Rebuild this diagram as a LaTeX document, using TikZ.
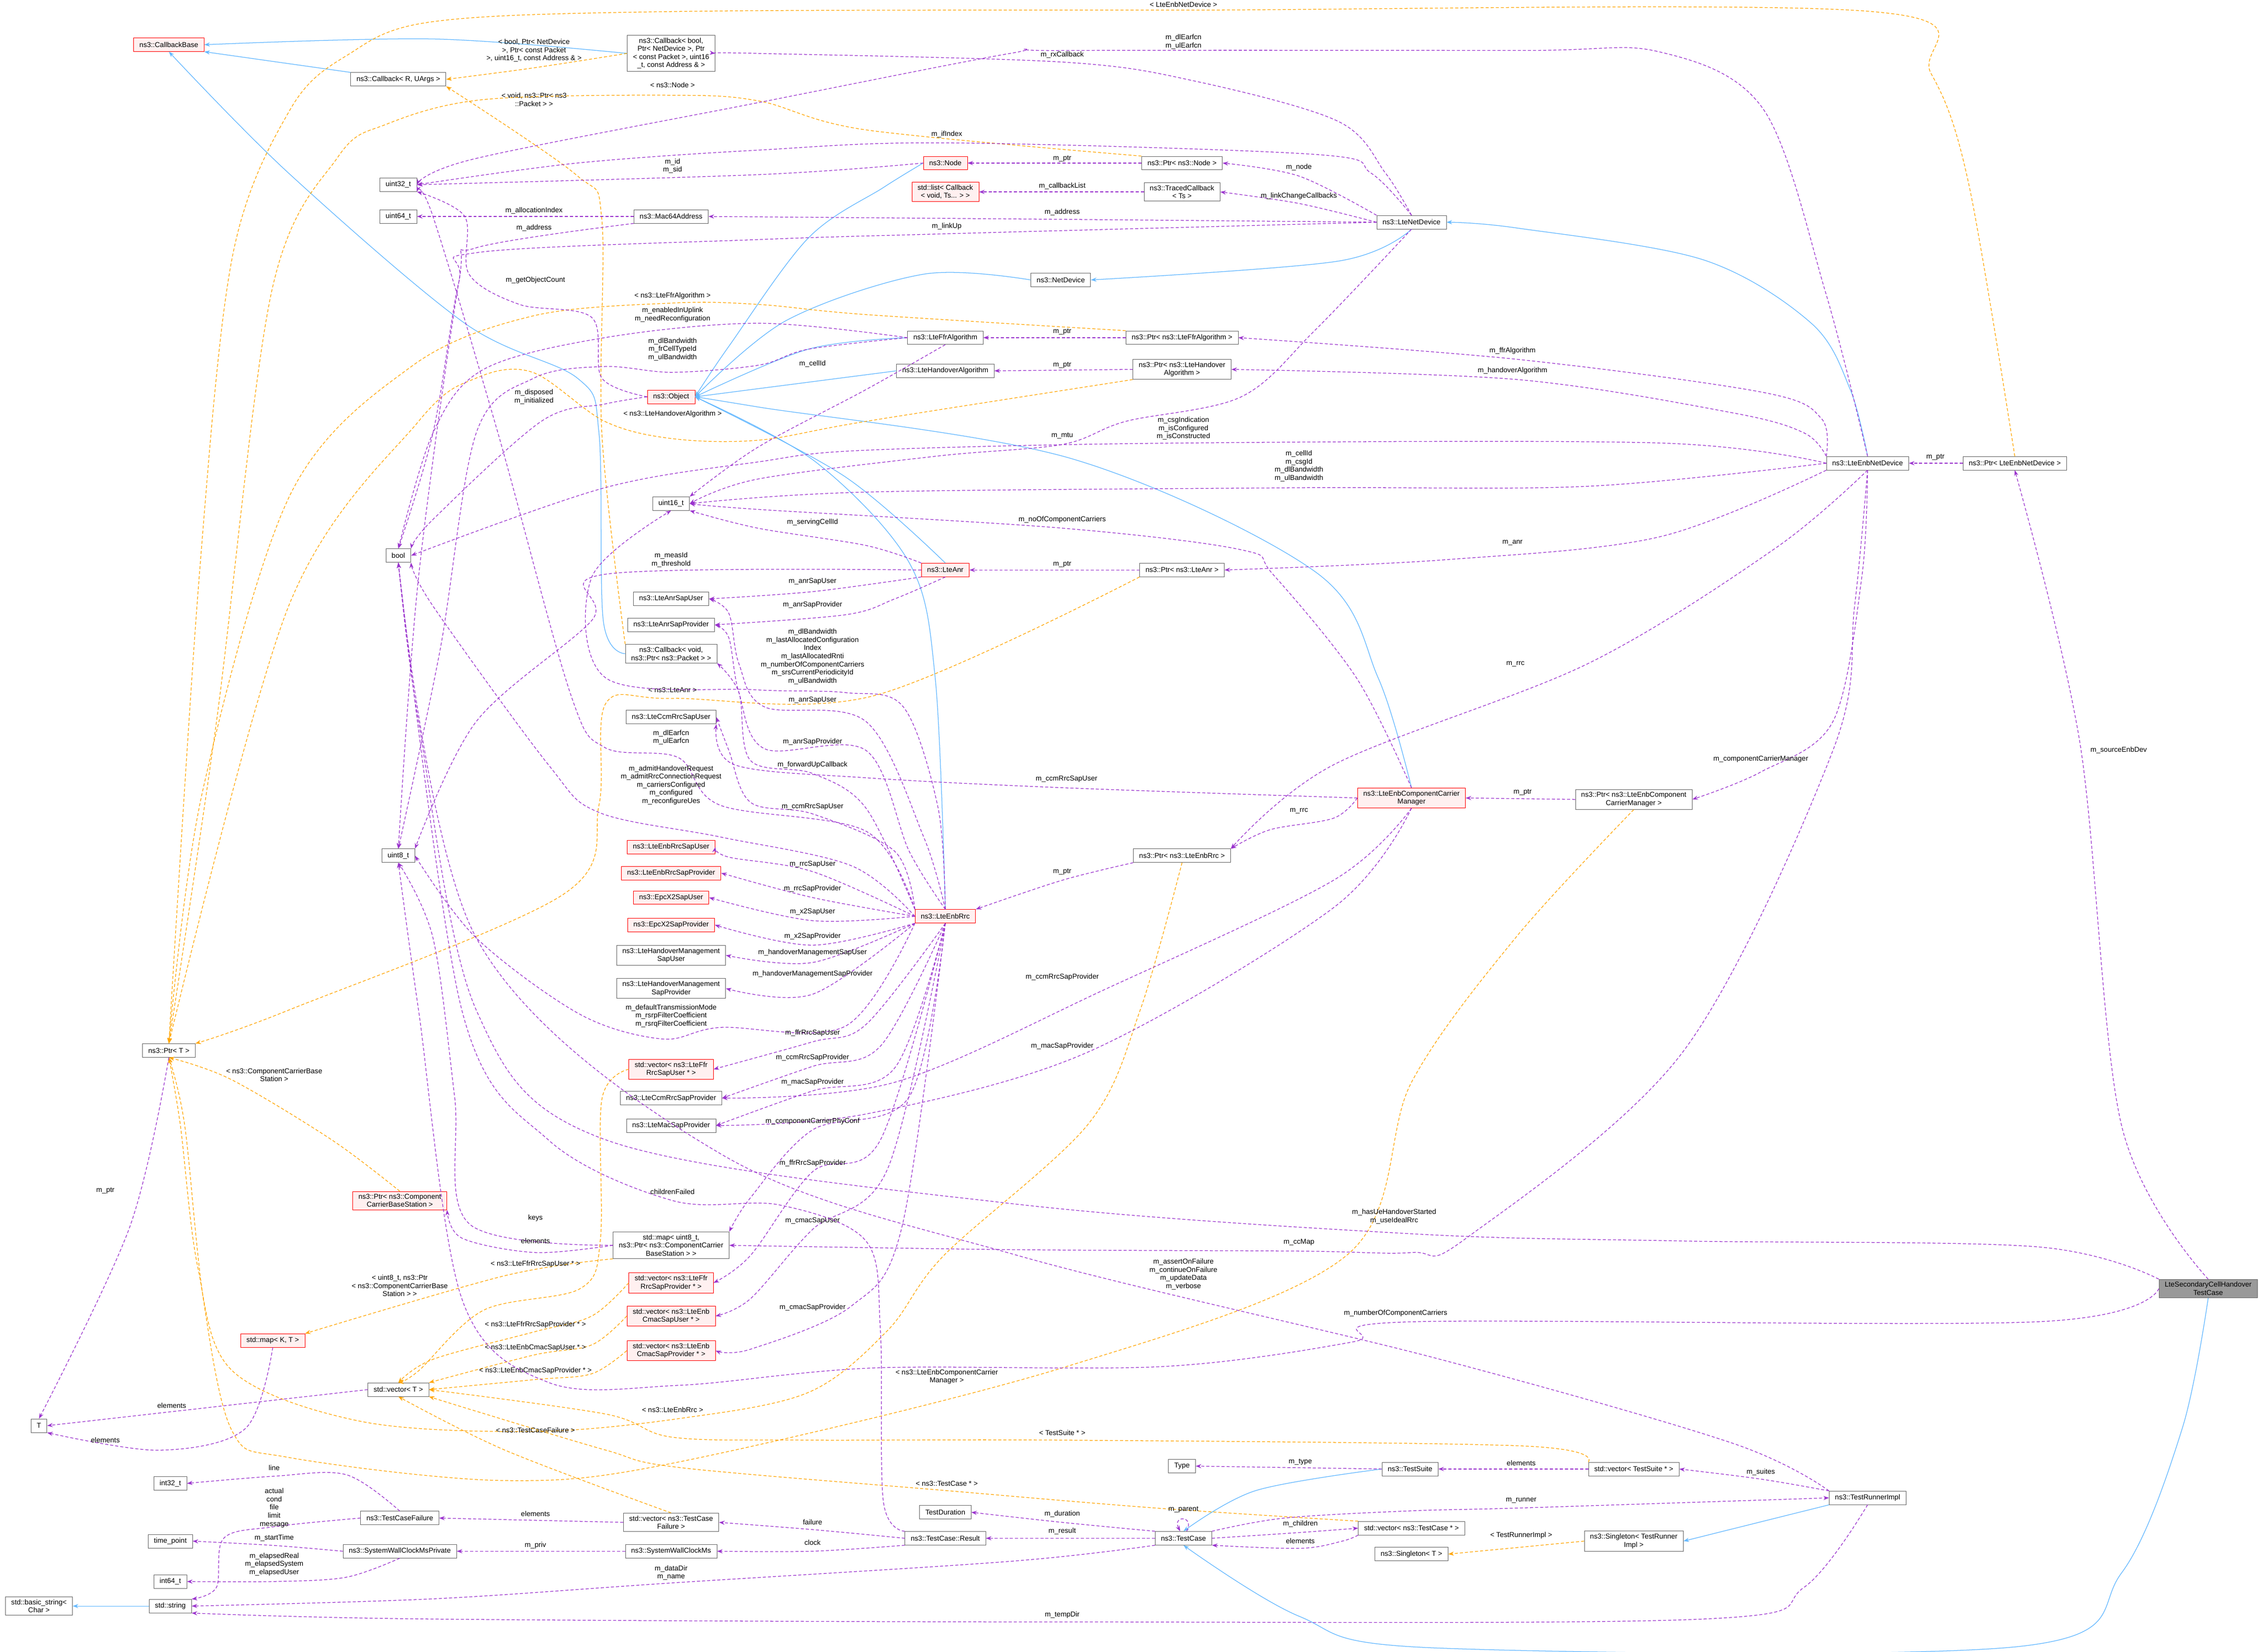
\documentclass[tikz,border=0pt]{standalone}
\usepackage{fontspec}
\setmainfont{Liberation Sans}
\usetikzlibrary{arrows.meta}
\definecolor{pur}{HTML}{9A32CD}
\definecolor{org}{HTML}{FFA500}
\definecolor{blu}{HTML}{63B8FF}
\definecolor{rfill}{HTML}{FFF0F0}
\definecolor{gbord}{HTML}{666666}
\newcommand\pth[2]{\draw[#1] plot[smooth,tension=0.55] coordinates {#2};}
\newcommand\lab[2]{\node[lab] at #1 {#2};}
\begin{document}
\catcode`\_=12
\begin{tikzpicture}[x=1mm,y=-1mm,
 box/.style={draw=gbord,fill=white,line width=0.8pt,font=\fontsize{14}{16}\selectfont,align=center,inner xsep=4mm,inner ysep=1.8mm,minimum height=9.4mm},
 rbox/.style={box,draw=red,fill=rfill},
 fbox/.style={box,draw=gbord,fill=gray!80},
 lab/.style={font=\fontsize{14}{16}\selectfont,align=center,inner sep=0pt},
 mem/.style={draw=pur,line width=1.3pt,dash pattern=on 6pt off 4pt,-{Stealth[length=11pt,width=8pt]}},
 tpl/.style={draw=org,line width=1.3pt,dash pattern=on 6pt off 4pt,-{Stealth[length=11pt,width=8pt]}},
 inh/.style={draw=blu,line width=1.3pt,-{Stealth[length=11pt,width=8pt]}}]
\fill[white] (0,0) rectangle (1568,1144.6);
\useasboundingbox (0,0) rectangle (1568,1144.6);
% nodes
\node[rbox] (cbb) at (117,31) {ns3::CallbackBase};
\node[box] (cbbool) at (465,37) {ns3::Callback< bool,\\Ptr< NetDevice >, Ptr\\< const Packet >, uint16\\_t, const Address \& >};
\node[box] (cbR) at (276,55) {ns3::Callback< R, UArgs >};
\node[box] (u32) at (276,128) {uint32_t};
\node[box] (u64) at (276,150) {uint64_t};
\node[box] (mac) at (465,150) {ns3::Mac64Address};
\node[rbox] (node) at (655,113) {ns3::Node};
\node[box] (pnode) at (819,113) {ns3::Ptr< ns3::Node >};
\node[rbox] (slist) at (655,133) {std::list< Callback\\< void, Ts... > >};
\node[box] (traced) at (819,133) {ns3::TracedCallback\\< Ts >};
\node[box] (lnd) at (978,154) {ns3::LteNetDevice};
\node[box] (nd) at (735,194) {ns3::NetDevice};
\node[box] (ffr) at (655,234) {ns3::LteFfrAlgorithm};
\node[box] (pffr) at (819,234) {ns3::Ptr< ns3::LteFfrAlgorithm >};
\node[box] (ho) at (655,257) {ns3::LteHandoverAlgorithm};
\node[box] (pho) at (819,256) {ns3::Ptr< ns3::LteHandover\\Algorithm >};
\node[rbox] (obj) at (465,275) {ns3::Object};
\node[box] (enbdev) at (1294,321) {ns3::LteEnbNetDevice};
\node[box] (penbdev) at (1396,321) {ns3::Ptr< LteEnbNetDevice >};
\node[box] (u16) at (465,349) {uint16_t};
\node[box] (bool) at (276,385) {bool};
\node[rbox] (anr) at (655,395) {ns3::LteAnr};
\node[box] (panr) at (819,395) {ns3::Ptr< ns3::LteAnr >};
\node[box] (anrsu) at (465,415) {ns3::LteAnrSapUser};
\node[box] (anrsp) at (465,433) {ns3::LteAnrSapProvider};
\node[box] (cbv) at (465,453) {ns3::Callback< void,\\ns3::Ptr< ns3::Packet > >};
\node[box] (ccmsu) at (465,497) {ns3::LteCcmRrcSapUser};
\node[rbox] (ccm) at (978,553) {ns3::LteEnbComponentCarrier\\Manager};
\node[box] (pccm) at (1132,554) {ns3::Ptr< ns3::LteEnbComponent\\CarrierManager >};
\node[box] (prrc) at (819,593) {ns3::Ptr< ns3::LteEnbRrc >};
\node[box] (u8) at (276,593) {uint8_t};
\node[rbox] (rrcsu) at (465,587) {ns3::LteEnbRrcSapUser};
\node[rbox] (rrcsp) at (465,605) {ns3::LteEnbRrcSapProvider};
\node[rbox] (x2su) at (465,622) {ns3::EpcX2SapUser};
\node[rbox] (x2sp) at (465,641) {ns3::EpcX2SapProvider};
\node[rbox] (rrc) at (655,635) {ns3::LteEnbRrc};
\node[box] (hmsu) at (465,662) {ns3::LteHandoverManagement\\SapUser};
\node[box] (hmsp) at (465,685) {ns3::LteHandoverManagement\\SapProvider};
\node[rbox] (vffru) at (465,741) {std::vector< ns3::LteFfr\\RrcSapUser * >};
\node[box] (ccmsp) at (465,761) {ns3::LteCcmRrcSapProvider};
\node[box] (macsp) at (465,780) {ns3::LteMacSapProvider};
\node[box] (ptrT) at (117,728) {ns3::Ptr< T >};
\node[rbox] (pccbs) at (277,832) {ns3::Ptr< ns3::Component\\CarrierBaseStation >};
\node[box] (mapcc) at (465,863) {std::map< uint8_t,\\ns3::Ptr< ns3::ComponentCarrier\\BaseStation > >};
\node[rbox] (vffrp) at (465,889) {std::vector< ns3::LteFfr\\RrcSapProvider * >};
\node[rbox] (vcmu) at (465,912) {std::vector< ns3::LteEnb\\CmacSapUser * >};
\node[rbox] (vcmp) at (465,936) {std::vector< ns3::LteEnb\\CmacSapProvider * >};
\node[rbox] (mapKT) at (189,929) {std::map< K, T >};
\node[box] (vecT) at (276,963) {std::vector< T >};
\node[box] (T) at (27,988) {T};
\node[box] (i32) at (118,1028) {int32_t};
\node[box] (tcf) at (277,1052) {ns3::TestCaseFailure};
\node[box] (vtcf) at (465,1055) {std::vector< ns3::TestCase\\Failure >};
\node[box] (tp) at (118,1068) {time_point};
\node[box] (swcp) at (277,1075) {ns3::SystemWallClockMsPrivate};
\node[box] (swc) at (465,1075) {ns3::SystemWallClockMs};
\node[box] (i64) at (118,1096) {int64_t};
\node[box] (bstr) at (27,1113) {std::basic_string<\\Char >};
\node[box] (str) at (118,1113) {std::string};
\node[box] (tdur) at (655,1048) {TestDuration};
\node[box] (tcres) at (655,1066) {ns3::TestCase::Result};
\node[box] (type) at (819,1016) {Type};
\node[box] (tsuite) at (977,1018) {ns3::TestSuite};
\node[box] (vts) at (1132,1018) {std::vector< TestSuite * >};
\node[box] (tcase) at (820,1066) {ns3::TestCase};
\node[box] (vtc) at (978,1059) {std::vector< ns3::TestCase * >};
\node[box] (tri) at (1294,1038) {ns3::TestRunnerImpl};
\node[box] (sgl) at (1132,1068) {ns3::Singleton< TestRunner\\Impl >};
\node[box] (sglT) at (978,1077) {ns3::Singleton< T >};
\node[fbox] (lsc) at (1530,893) {LteSecondaryCellHandover\\TestCase};
% inheritance
\pth{inh}{(cbbool.west) (300,27) (cbb.east)}
\draw[inh] (cbR.north west) -- (cbb.south east);
\pth{inh}{(cbv.west) (418,430) (415,300) (400,262) (322,224) (200,120) (cbb.south)}
\pth{inh}{(node.west) (612,130) (560,165) (505,240) (obj.east)}
\pth{inh}{(ffr.west) (560,242) (obj.east)}
\draw[inh] (ho.west) -- (obj.east);
\pth{inh}{(nd.west) (640,190) (545,222) (obj.east)}
\pth{inh}{(anr.north) (585,330) (obj.east)}
\pth{inh}{(rrc.north) (648,470) (630,390) (565,320) (obj.east)}
\pth{inh}{(ccm.north) (955,470) (911,396) (743,318) (525,282) (obj.east)}
\pth{inh}{(lnd.south) (927,181) (nd.east)}
\pth{inh}{(enbdev.north) (1282,270) (1255,224) (1180,180) (1051,158) (lnd.east)}
\pth{inh}{(tsuite.west) (870,1033) (tcase.north)}
\pth{inh}{(lsc.south) (1512,990) (1470,1090) (1399,1141) (994,1142) (900,1120) (tcase.south)}
\draw[inh] (tri.south west) -- (sgl.east);
\draw[inh] (str.west) -- (bstr.east);
% templates
\pth{tpl}{(cbbool.west) (370,47) (cbR.east)}
\lab{(370,35)}{< bool, Ptr< NetDevice\\>, Ptr< const Packet\\>, uint16_t, const Address \& >}
\pth{tpl}{(cbv.north west) (417,300) (417,152) (399,121) (cbR.south east)}
\lab{(370,69)}{< void, ns3::Ptr< ns3\\::Packet > >}
\pth{tpl}{(pnode.north west) (600,90) (526,70) (466,66) (335,69) (268,86) (234,109) (188,203) (150,500) (ptrT.north)}
\lab{(466,59)}{< ns3::Node >}
\pth{tpl}{(pffr.north west) (600,218) (526,211) (466,210) (369,219) (285,254) (201,343) (140,550) (ptrT.north)}
\lab{(466,205)}{< ns3::LteFfrAlgorithm >}
\pth{tpl}{(pho.south west) (600,292) (526,305) (466,304) (419,292) (369,258) (330,262) (290,292) (200,420) (ptrT.north)}
\lab{(466,287)}{< ns3::LteHandoverAlgorithm >}
\pth{tpl}{(penbdev.north) (1364,127) (1338,51) (1297,8) (820,7) (466,8) (300,15) (241,38) (201,76) (161,178) (138,400) (ptrT.north)}
\lab{(820,3)}{< LteEnbNetDevice >}
\pth{tpl}{(panr.south west) (606,482) (466,484) (420,487) (415,558) (390,620) (200,700) (ptrT.north east)}
\lab{(466,478)}{< ns3::LteAnr >}
\pth{tpl}{(pccbs.north) (230,790) (160,748) (ptrT.south)}
\lab{(190,745)}{< ns3::ComponentCarrierBase\\Station >}
\pth{tpl}{(prrc.south) (790,700) (754,779) (654,870) (615,922) (560,965) (471,983) (369,992) (250,985) (161,950) (137,878) (125,780) (ptrT.south)}
\lab{(466,977)}{< ns3::LteEnbRrc >}
\pth{tpl}{(pccm.south) (1050,650) (978,750) (933,870) (739,947) (471,1013) (349,1026) (200,1010) (161,992) (141,901) (128,780) (ptrT.south)}
\lab{(656,954)}{< ns3::LteEnbComponentCarrier\\Manager >}
\pth{tpl}{(mapcc.south west) (350,884) (mapKT.north east)}
\lab{(277,891)}{< uint8_t, ns3::Ptr\\< ns3::ComponentCarrierBase\\Station > >}
\pth{tpl}{(vffru.west) (417,762) (416,859) (402,893) (335,908) (290,950) (vecT.north)}
\lab{(371,876)}{< ns3::LteFfrRrcSapUser * >}
\pth{tpl}{(vffrp.west) (410,912) (370,923) (300,942) (vecT.north)}
\lab{(371,918)}{< ns3::LteFfrRrcSapProvider * >}
\pth{tpl}{(vcmu.west) (410,932) (370,939) (vecT.north east)}
\lab{(371,934)}{< ns3::LteEnbCmacSapUser * >}
\pth{tpl}{(vcmp.west) (410,952) (371,956) (vecT.east)}
\lab{(371,950)}{< ns3::LteEnbCmacSapProvider * >}
\pth{tpl}{(vtcf.north) (350,1005) (vecT.south)}
\pth{tpl}{(vts.north west) (1054,1002) (736,998) (560,998) (466,996) (420,980) (vecT.east)}
\lab{(736,993)}{< TestSuite * >}
\lab{(371,991)}{< ns3::TestCaseFailure >}
\pth{tpl}{(vtc.north west) (800,1045) (656,1033) (471,1017) (420,1005) (330,978) (vecT.south east)}
\lab{(656,1028)}{< ns3::TestCase * >}
\draw[tpl] (sgl.west) -- (sglT.east);
\lab{(1054,1064)}{< TestRunnerImpl >}
% members
\pth{mem}{(ptrT.south) (90,850) (T.north)}
\lab{(73,825)}{m_ptr}
\draw[mem] (vecT.west) -- (T.east); \lab{(119,974)}{elements}
\pth{mem}{(mapKT.south) (170,990) (110,1005) (T.south east)} \lab{(73,998)}{elements}
\draw[mem] (pnode.west) -- (node.east); \lab{(736,110)}{m_ptr}
\draw[mem] (traced.west) -- (slist.east); \lab{(736,129)}{m_callbackList}
\pth{mem}{(lnd.north west) (900,122) (pnode.east)} \lab{(900,116)}{m_node}
\pth{mem}{(lnd.west) (900,141) (traced.east)} \lab{(900,136)}{m_linkChangeCallbacks}
\pth{mem}{(lnd.west) (736,152) (mac.east)} \lab{(736,147)}{m_address}
\pth{mem}{(lnd.west) (656,162) (526,166) (331,175) (318,195) (300,300) (bool.north)} \lab{(656,157)}{m_linkUp}
\pth{mem}{(lnd.north) (950,120) (911,107) (656,99) (526,104) (400,113) (u32.east)} \lab{(656,93)}{m_ifIndex}
\pth{mem}{(lnd.south) (911,229) (860,275) (780,292) (736,308) (650,316) (525,332) (u16.east)} \lab{(736,302)}{m_mtu}
\pth{mem}{(lnd.north) (960,120) (927,84) (827,56) (736,43) (525,37) (cbbool.east)} \lab{(736,38)}{m_rxCallback}
\pth{mem}{(enbdev.north) (1265,203) (1222,76) (1150,36) (1051,35) (736,35) (700,37) (526,71) (329,110) (u32.east)} \lab{(820,29)}{m_dlEarfcn\\m_ulEarfcn}
\pth{mem}{(node.west) (526,121) (u32.east)} \lab{(466,115)}{m_id\\m_sid}
\draw[mem] (mac.west) -- (u64.east); \lab{(370,146)}{m_allocationIndex}
\pth{mem}{(mac.south west) (329,172) (318,195) (290,400) (u8.north)} \lab{(370,158)}{m_address}
\pth{mem}{(obj.west) (417,262) (410,220) (360,211) (325,190) (322,150) (u32.south east)} \lab{(371,194)}{m_getObjectCount}
\pth{mem}{(obj.west) (419,280) (375,292) (300,360) (bool.north east)} \lab{(370,275)}{m_disposed\\m_initialized}
\pth{mem}{(ffr.west) (526,224) (419,234) (335,256) (300,300) (bool.north)} \lab{(466,218)}{m_enabledInUplink\\m_needReconfiguration}
\pth{mem}{(ffr.west) (560,242) (526,253) (466,258) (419,254) (370,262) (330,300) (305,450) (u8.north)} \lab{(466,242)}{m_dlBandwidth\\m_frCellTypeId\\m_ulBandwidth}
\pth{mem}{(ffr.south) (600,270) (525,310) (u16.north east)} \lab{(563,252)}{m_cellId}
\draw[mem] (pffr.west) -- (ffr.east); \lab{(736,230)}{m_ptr}
\draw[mem] (pho.west) -- (ho.east); \lab{(736,253)}{m_ptr}
\pth{mem}{(enbdev.north west) (1262,290) (1222,272) (1051,249) (pffr.east)} \lab{(1048,243)}{m_ffrAlgorithm}
\pth{mem}{(enbdev.north west) (1250,300) (1200,286) (1051,263) (pho.east)} \lab{(1048,257)}{m_handoverAlgorithm}
\pth{mem}{(enbdev.west) (1150,307) (820,307) (600,312) (526,320) (419,338) (bool.east)} \lab{(820,297)}{m_csgIndication\\m_isConfigured\\m_isConstructed}
\pth{mem}{(enbdev.west) (1100,337) (900,338) (600,341) (u16.east)} \lab{(900,323)}{m_cellId\\m_csgId\\m_dlBandwidth\\m_ulBandwidth}
\pth{mem}{(enbdev.south west) (1150,372) (1000,388) (panr.east)} \lab{(1048,376)}{m_anr}
\pth{mem}{(enbdev.south) (1230,380) (1100,460) (924,530) (prrc.north east)} \lab{(1050,460)}{m_rrc}
\pth{mem}{(enbdev.south) (1290,400) (1270,500) (1220,535) (pccm.east)} \lab{(1220,526)}{m_componentCarrierManager}
\pth{mem}{(enbdev.south) (1285,420) (1270,520) (1166,729) (1016,858) (978,868) (900,867) (700,866) (mapcc.east)} \lab{(900,861)}{m_ccMap}
\draw[mem] (penbdev.west) -- (enbdev.east); \lab{(1341,317)}{m_ptr}
\pth{mem}{(lsc.north) (1470,780) (1441,514) (penbdev.south)} \lab{(1468,520)}{m_sourceEnbDev}
\pth{mem}{(lsc.north west) (1411,864) (1166,860) (978,855) (700,834) (420,790) (330,700) (290,500) (bool.south)} \lab{(966,843)}{m_hasUeHandoverStarted\\m_useIdealRrc}
\pth{mem}{(lsc.west) (1411,916) (978,916) (937,930) (806,947) (605,948) (471,960) (380,958) (320,900) (290,700) (u8.south)} \lab{(967,910)}{m_numberOfComponentCarriers}
\pth{mem}{(anr.north west) (600,378) (525,366) (u16.south east)} \lab{(563,362)}{m_servingCellId}
\pth{mem}{(anr.west) (419,398) (410,430) (330,500) (u8.north east)} \lab{(465,388)}{m_measId\\m_threshold}
\pth{mem}{(anr.south west) (563,410) (anrsu.east)} \lab{(563,403)}{m_anrSapUser}
\pth{mem}{(anr.south) (620,415) (586,426) (anrsp.east)} \lab{(563,419)}{m_anrSapProvider}
\draw[mem] (panr.west) -- (anr.east); \lab{(736,391)}{m_ptr}
\pth{mem}{(ccm.north) (940,470) (882,398) (860,381) (736,366) (525,353) (u16.east)} \lab{(736,360)}{m_noOfComponentCarriers}
\pth{mem}{(ccm.west) (924,567) (880,575) (prrc.north east)} \lab{(900,562)}{m_rrc}
\pth{mem}{(ccm.west) (739,546) (600,539) (509,530) (ccmsu.south east)} \lab{(739,540)}{m_ccmRrcSapUser}
\pth{mem}{(ccm.south) (924,610) (767,685) (620,750) (ccmsp.east)} \lab{(736,677)}{m_ccmRrcSapProvider}
\pth{mem}{(ccm.south) (924,629) (754,729) (600,772) (macsp.east)} \lab{(736,725)}{m_macSapProvider}
\draw[mem] (pccm.west) -- (ccm.east); \lab{(1055,549)}{m_ptr}
\pth{mem}{(prrc.south west) (736,610) (rrc.north east)} \lab{(736,604)}{m_ptr}
\pth{mem}{(rrc.north) (650,560) (626,490) (586,480) (523,478) (420,470) (410,400) (u16.south)} \lab{(563,455)}{m_dlBandwidth\\m_lastAllocatedConfiguration\\Index\\m_lastAllocatedRnti\\m_numberOfComponentCarriers\\m_srsCurrentPeriodicityId\\m_ulBandwidth}
\pth{mem}{(rrc.north) (640,580) (600,500) (530,490) (512,460) (505,425) (anrsu.east)} \lab{(563,485)}{m_anrSapUser}
\pth{mem}{(rrc.north) (630,590) (600,520) (530,519) (512,480) (505,442) (anrsp.east)} \lab{(563,514)}{m_anrSapProvider}
\pth{mem}{(rrc.north west) (600,560) (563,536) (520,527) (512,480) (cbv.south east)} \lab{(563,530)}{m_forwardUpCallback}
\pth{mem}{(rrc.north west) (620,590) (563,564) (520,556) (505,520) (ccmsu.east)} \lab{(563,559)}{m_ccmRrcSapUser}
\pth{mem}{(rrc.north west) (600,576) (499,558) (470,525) (419,518) (395,480) (345,300) (300,150) (u32.south east)} \lab{(465,511)}{m_dlEarfcn\\m_ulEarfcn}
\pth{mem}{(rrc.west) (590,600) (499,580) (415,563) (380,530) (300,420) (bool.south east)} \lab{(465,544)}{m_admitHandoverRequest\\m_admitRrcConnectionRequest\\m_carriersConfigured\\m_configured\\m_reconfigureUes}
\pth{mem}{(rrc.west) (563,604) (505,594) (rrcsu.east)} \lab{(563,599)}{m_rrcSapUser}
\pth{mem}{(rrc.west) (563,622) (rrcsp.east)} \lab{(563,616)}{m_rrcSapProvider}
\pth{mem}{(rrc.west) (563,638) (x2su.east)} \lab{(563,632)}{m_x2SapUser}
\pth{mem}{(rrc.south west) (563,655) (x2sp.east)} \lab{(563,649)}{m_x2SapProvider}
\pth{mem}{(rrc.south west) (563,667) (hmsu.east)} \lab{(563,660)}{m_handoverManagementSapUser}
\pth{mem}{(rrc.south west) (563,689) (hmsp.east)} \lab{(563,675)}{m_handoverManagementSapProvider}
\pth{mem}{(rrc.south west) (586,711) (499,712) (459,720) (402,703) (330,650) (u8.east)} \lab{(465,704)}{m_defaultTransmissionMode\\m_rsrpFilterCoefficient\\m_rsrqFilterCoefficient}
\pth{mem}{(rrc.south) (600,710) (563,722) (vffru.east)} \lab{(563,716)}{m_ffrRrcSapUser}
\pth{mem}{(rrc.south) (610,725) (563,739) (ccmsp.east)} \lab{(563,733)}{m_ccmRrcSapProvider}
\pth{mem}{(rrc.south) (620,740) (563,756) (macsp.east)} \lab{(563,750)}{m_macSapProvider}
\pth{mem}{(rrc.south) (630,760) (563,783) (520,830) (mapcc.north east)} \lab{(563,777)}{m_componentCarrierPhyConf}
\pth{mem}{(rrc.south) (610,790) (563,812) (520,870) (vffrp.east)} \lab{(563,806)}{m_ffrRrcSapProvider}
\pth{mem}{(rrc.south) (615,810) (563,852) (520,900) (vcmu.east)} \lab{(563,846)}{m_cmacSapUser}
\pth{mem}{(rrc.south) (625,850) (590,905) (520,935) (vcmp.east)} \lab{(563,906)}{m_cmacSapProvider}
\pth{mem}{(mapcc.west) (325,848) (315,760) (300,650) (u8.south)} \lab{(371,844)}{keys}
\pth{mem}{(mapcc.west) (371,868) (320,858) (pccbs.south east)} \lab{(371,860)}{elements}
\pth{mem}{(tcres.north west) (612,1040) (610,922) (600,860) (540,835) (466,832) (380,790) (320,700) (bool.south)} \lab{(466,826)}{childrenFailed}
\pth{mem}{(tri.north west) (1200,1000) (994,941) (705,870) (500,800) (330,650) (bool.south)} \lab{(820,883)}{m_assertOnFailure\\m_continueOnFailure\\m_updateData\\m_verbose}
\pth{mem}{(tcf.north) (240,1022) (190,1023) (i32.east)} \lab{(190,1017)}{line}
\pth{mem}{(tcf.west) (190,1058) (155,1066) (150,1100) (str.north east)} \lab{(190,1045)}{actual\\cond\\file\\limit\\message}
\draw[mem] (vtcf.west) -- (tcf.east); \lab{(371,1049)}{elements}
\pth{mem}{(swcp.west) (190,1071) (tp.east)} \lab{(190,1066)}{m_startTime}
\pth{mem}{(swcp.south) (240,1093) (190,1096) (i64.east)} \lab{(190,1084)}{m_elapsedReal\\m_elapsedSystem\\m_elapsedUser}
\draw[mem] (swc.west) -- (swcp.east); \lab{(371,1071)}{m_priv}
\pth{mem}{(tcres.west) (563,1060) (vtcf.east)} \lab{(563,1055)}{failure}
\pth{mem}{(tcres.south west) (563,1075) (swc.east)} \lab{(563,1069)}{clock}
\pth{mem}{(tcase.north west) (736,1055) (tdur.east)} \lab{(736,1049)}{m_duration}
\draw[mem] (tcase.west) -- (tcres.east); \lab{(736,1061)}{m_result}
\draw[mem] (tcase.65) .. controls (828,1050) and (812,1050) .. (tcase.115); \lab{(820,1046)}{m_parent}
\pth{mem}{(tcase.east) (901,1062) (vtc.west)} \lab{(901,1056)}{m_children}
\pth{mem}{(vtc.south west) (930,1068) (901,1073) (tcase.south east)} \lab{(901,1068)}{elements}
\pth{mem}{(tcase.south west) (700,1082) (465,1097) (300,1108) (str.east)} \lab{(465,1090)}{m_dataDir\\m_name}
\pth{mem}{(tcase.north east) (890,1052) (978,1047) (1054,1045) (tri.west)} \lab{(1054,1040)}{m_runner}
\pth{mem}{(tri.north west) (1220,1025) (vts.east)} \lab{(1220,1020)}{m_suites}
\pth{mem}{(tri.south) (1250,1100) (1180,1122) (736,1124) (300,1122) (str.south east)} \lab{(736,1119)}{m_tempDir}
\draw[mem] (vts.west) -- (tsuite.east); \lab{(1054,1014)}{elements}
\draw[mem] (tsuite.west) -- (type.east); \lab{(901,1013)}{m_type}
\end{tikzpicture}
\end{document}
